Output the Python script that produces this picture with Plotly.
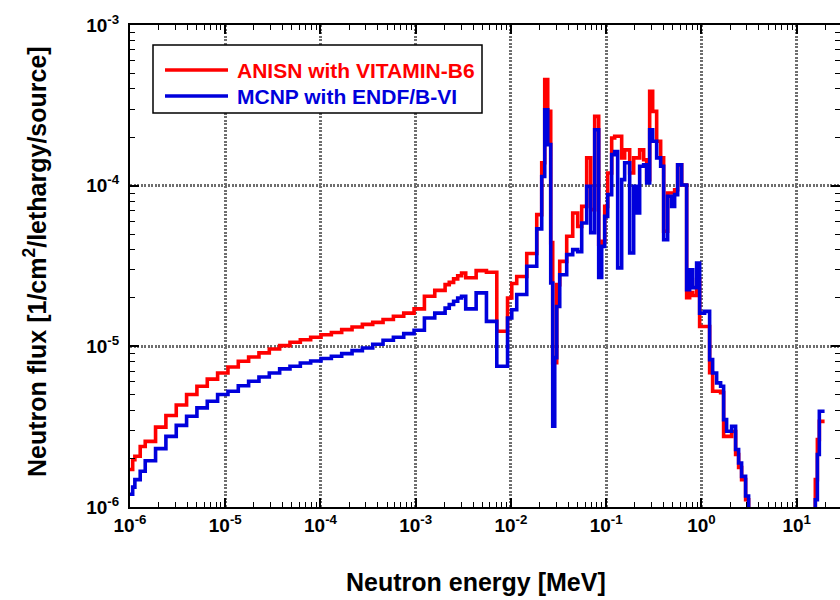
import plotly.graph_objects as go

# Group boundaries of the multigroup spectrum [MeV]
edges_mev = [
    1.000e-6, 1.067e-6, 1.125e-6, 1.280e-6, 1.445e-6, 1.855e-6, 2.382e-6, 3.059e-6,
    3.928e-6, 5.043e-6, 6.476e-6, 8.315e-6, 1.068e-5, 1.371e-5, 1.760e-5, 2.260e-5,
    2.902e-5, 3.727e-5, 4.785e-5, 6.144e-5, 7.889e-5, 1.013e-4, 1.301e-4, 1.670e-4,
    2.145e-4, 2.754e-4, 3.536e-4, 4.540e-4, 5.830e-4, 7.485e-4, 9.611e-4, 1.234e-3,
    1.585e-3, 2.035e-3, 2.250e-3, 2.500e-3, 2.760e-3, 3.030e-3, 3.350e-3, 4.310e-3,
    5.530e-3, 7.100e-3, 9.210e-3, 1.020e-2, 1.150e-2, 1.465e-2, 1.866e-2, 2.104e-2,
    2.263e-2, 2.433e-2, 2.616e-2, 2.745e-2, 2.882e-2, 3.024e-2, 3.252e-2, 3.850e-2,
    4.452e-2, 5.023e-2, 5.532e-2, 6.243e-2, 6.877e-2, 7.572e-2, 8.343e-2, 8.970e-2,
    9.645e-2, 0.1037, 0.1142, 0.1228, 0.1320, 0.1454, 0.1563, 0.1764,
    0.1943, 0.2089, 0.2246, 0.2474, 0.2661, 0.2861, 0.3076, 0.3388,
    0.3731, 0.4012, 0.4418, 0.4867, 0.5233, 0.5627, 0.6197, 0.6994,
    0.7519, 0.8087, 0.8904, 0.9574, 1.080, 1.219, 1.311, 1.444,
    1.590, 1.710, 1.838, 2.075, 2.285, 2.457, 2.641, 2.910,
    3.128, 3.445, 15.0, 15.7, 16.5, 17.3, 19.64,
]

# ANISN / VITAMIN-B6 group flux [1/cm2/lethargy/source]
anisn_flux = [
    1.71e-6, 1.97e-6, 2.07e-6, 2.38e-6, 2.56e-6, 3.14e-6, 3.71e-6, 4.31e-6,
    5.01e-6, 5.64e-6, 6.25e-6, 6.83e-6, 7.44e-6, 8.07e-6, 8.59e-6, 9.10e-6,
    9.63e-6, 1.01e-5, 1.06e-5, 1.10e-5, 1.14e-5, 1.18e-5, 1.22e-5, 1.27e-5,
    1.32e-5, 1.37e-5, 1.41e-5, 1.47e-5, 1.54e-5, 1.61e-5, 1.71e-5, 2.05e-5,
    2.23e-5, 2.42e-5, 2.50e-5, 2.63e-5, 2.75e-5, 2.86e-5, 2.67e-5, 2.96e-5,
    2.89e-5, 1.24e-5, 2.00e-5, 2.46e-5, 2.72e-5, 3.78e-5, 6.60e-5, 1.39e-4,
    4.57e-4, 2.90e-4, 4.42e-5, 7.92e-6, 7.92e-6, 2.42e-5, 3.38e-5, 4.84e-5,
    6.76e-5, 5.58e-5, 7.43e-5, 1.49e-4, 7.09e-5, 2.70e-4, 4.30e-5, 4.50e-5,
    7.43e-5, 1.20e-4, 1.98e-4, 2.03e-4, 2.03e-4, 1.49e-4, 1.67e-4, 1.20e-4,
    1.49e-4, 1.49e-4, 1.67e-4, 1.45e-4, 1.09e-4, 3.86e-4, 2.90e-4, 1.89e-4,
    1.49e-4, 5.20e-5, 9.00e-5, 9.00e-5, 9.44e-5, 1.35e-4, 1.01e-4, 2.01e-5,
    2.16e-5, 2.07e-5, 2.60e-5, 1.33e-5, 1.33e-5, 6.86e-6, 5.25e-6, 5.25e-6,
    5.15e-6, 2.75e-6, 2.75e-6, 2.95e-6, 2.12e-6, 1.76e-6, 1.48e-6, 1.11e-6,
    7.0e-7, 1.0e-8, 8.0e-7, 1.48e-6, 2.63e-6, 3.41e-6,
]

# MCNP / ENDF/B-VI group flux [1/cm2/lethargy/source]
mcnp_flux = [
    1.20e-6, 1.33e-6, 1.48e-6, 1.67e-6, 1.94e-6, 2.31e-6, 2.75e-6, 3.22e-6,
    3.67e-6, 4.14e-6, 4.55e-6, 5.01e-6, 5.25e-6, 5.69e-6, 6.06e-6, 6.45e-6,
    6.83e-6, 7.24e-6, 7.51e-6, 7.88e-6, 8.10e-6, 8.40e-6, 8.67e-6, 9.01e-6,
    9.40e-6, 9.77e-6, 1.03e-5, 1.09e-5, 1.14e-5, 1.20e-5, 1.26e-5, 1.50e-5,
    1.61e-5, 1.73e-5, 1.82e-5, 1.91e-5, 2.00e-5, 2.05e-5, 1.71e-5, 2.15e-5,
    1.43e-5, 7.51e-6, 1.50e-5, 1.69e-5, 2.10e-5, 3.15e-5, 5.38e-5, 1.14e-4,
    2.97e-4, 1.80e-4, 2.48e-5, 3.18e-6, 8.51e-6, 1.77e-5, 2.79e-5, 3.72e-5,
    4.00e-5, 3.88e-5, 5.86e-5, 9.90e-5, 5.10e-5, 2.23e-4, 2.68e-5, 4.19e-5,
    6.44e-5, 8.79e-5, 1.56e-4, 1.63e-4, 3.08e-5, 1.09e-4, 1.39e-4, 3.81e-5,
    9.90e-5, 6.76e-5, 1.32e-4, 1.35e-4, 1.04e-4, 2.23e-4, 1.89e-4, 1.49e-4,
    1.32e-4, 4.61e-5, 8.60e-5, 7.43e-5, 8.79e-5, 1.35e-4, 1.01e-4, 2.25e-5,
    3.00e-5, 2.32e-5, 3.30e-5, 1.61e-5, 1.65e-5, 8.27e-6, 6.83e-6, 5.92e-6,
    5.64e-6, 3.50e-6, 2.96e-6, 3.18e-6, 2.28e-6, 1.88e-6, 1.55e-6, 1.17e-6,
    7.5e-7, 1.0e-8, 6.0e-7, 1.11e-6, 2.12e-6, 3.94e-6,
]

x_tick_vals = [1e-6, 1e-5, 1e-4, 1e-3, 1e-2, 1e-1, 1e0, 1e1]
x_tick_text = ["<b>10<sup>-6</sup></b>", "<b>10<sup>-5</sup></b>", "<b>10<sup>-4</sup></b>",
               "<b>10<sup>-3</sup></b>", "<b>10<sup>-2</sup></b>", "<b>10<sup>-1</sup></b>",
               "<b>10<sup>0</sup></b>", "<b>10<sup>1</sup></b>"]
y_tick_vals = [1e-6, 1e-5, 1e-4, 1e-3]
y_tick_text = ["<b>10<sup>-6</sup></b>", "<b>10<sup>-5</sup></b>",
               "<b>10<sup>-4</sup></b>", "<b>10<sup>-3</sup></b>"]

legend_labels = ["ANISN with VITAMIN-B6", "MCNP with ENDF/B-VI"]
series_colors = ["#FF0000", "#0000DC"]

# minor log ticks (2..9 in every decade)
x_minor = [m * 10.0 ** e for e in range(-6, 2) for m in range(2, 10)]
y_minor = [m * 10.0 ** e for e in range(-6, -3) for m in range(2, 10)]

FONT = "Arial, Liberation Sans"
W, H = 840, 600
L, R, T, B = 130, 0, 25, 93
plot_w, plot_h = W - L - R, H - T - B


def fx(px):
    return (px - L) / plot_w


def fy(py):
    return (H - B - py) / plot_h


fig = go.Figure()
for flux, name, color in zip([anisn_flux, mcnp_flux], legend_labels, series_colors):
    fig.add_trace(go.Scatter(
        x=edges_mev, y=flux + [flux[-1]], mode="lines", name=name,
        line=dict(shape="hv", color=color, width=3.6), showlegend=False,
    ))

axis_common = dict(
    type="log", showline=True, linecolor="black", linewidth=2, mirror="ticks",
    ticks="inside", ticklen=9, tickwidth=1.5, tickcolor="black",
    tickmode="array",
    tickfont=dict(family=FONT, size=19, color="black"),
    showgrid=True, gridcolor="#6e6e6e", gridwidth=3, griddash="2px,1.5px",
    zeroline=False,
)

fig.update_xaxes(**axis_common, range=[-6, 1.455], tickvals=x_tick_vals, ticktext=x_tick_text,
                 minor=dict(tickvals=x_minor, ticks="inside", ticklen=5, tickwidth=1,
                            tickcolor="black", showgrid=False))
fig.update_yaxes(**axis_common, range=[-6, -3], tickvals=y_tick_vals, ticktext=y_tick_text,
                 ticklabelstandoff=5,
                 minor=dict(tickvals=y_minor, ticks="inside", ticklen=5, tickwidth=1,
                            tickcolor="black", showgrid=False))

shapes = [dict(type="rect", xref="paper", yref="paper", x0=fx(153), x1=fx(482), y0=fy(113), y1=fy(45),
               line=dict(color="black", width=1.5), fillcolor="white", layer="above")]
annotations = []
for i, (name, color) in enumerate(zip(legend_labels, series_colors)):
    yy = 70 + 26 * i
    shapes.append(dict(type="line", xref="paper", yref="paper", x0=fx(165), x1=fx(228),
                       y0=fy(yy), y1=fy(yy), line=dict(color=color, width=3.6), layer="above"))
    annotations.append(dict(text=f"<b>{name}</b>", xref="paper", yref="paper", x=fx(235), y=fy(yy),
                            xanchor="left", yanchor="middle", showarrow=False,
                            font=dict(family=FONT, size=21, color=color)))

annotations.append(dict(text="<b>Neutron energy [MeV]</b>", xref="paper", yref="paper",
                        x=fx(476), y=fy(582), xanchor="center", yanchor="middle", showarrow=False,
                        font=dict(family=FONT, size=25, color="black")))
annotations.append(dict(text="<b>Neutron flux [1/cm<sup>2</sup>/lethargy/source]</b>", xref="paper",
                        yref="paper", x=fx(35), y=fy(262), xanchor="center", yanchor="middle",
                        textangle=-90, showarrow=False,
                        font=dict(family=FONT, size=25, color="black")))

fig.update_layout(
    width=W, height=H,
    margin=dict(l=L, r=R, t=T, b=B, autoexpand=False),
    paper_bgcolor="white", plot_bgcolor="white",
    showlegend=False, shapes=shapes, annotations=annotations,
)

fig.write_html("out.html")
